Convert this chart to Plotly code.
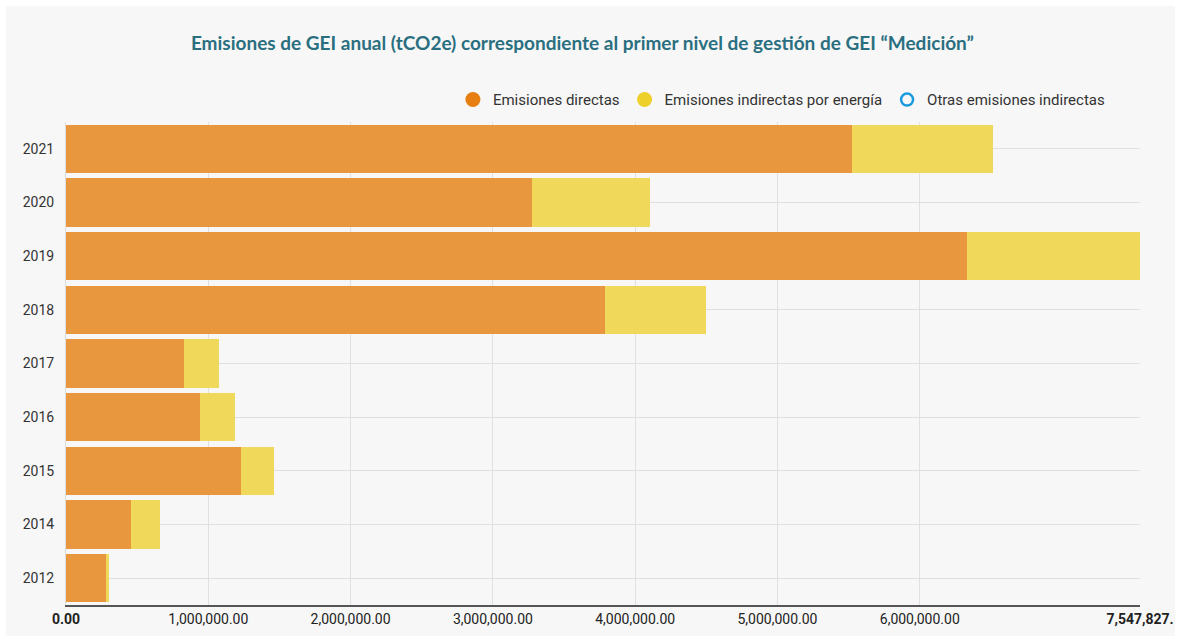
import plotly.graph_objects as go

years = ["2012", "2014", "2015", "2016", "2017", "2018", "2019", "2020", "2021"]
directas = [288000, 457000, 1230000, 942000, 829000, 3788000, 6332000, 3275000, 5523000]
indirectas_energia = [14000, 204000, 232000, 246000, 246000, 710000, 1215827, 829000, 991000]
otras = [0, 0, 0, 0, 0, 0, 0, 0, 0]

x_max = 7547827
tick_vals = [0, 1000000, 2000000, 3000000, 4000000, 5000000, 6000000, 7547827]
tick_text = ["<b>0.00</b>", "1,000,000.00", "2,000,000.00", "3,000,000.00", "4,000,000.00",
             "5,000,000.00", "6,000,000.00", "<b>7,547,827.</b>"]

orange = "rgb(233,151,62)"
yellow = "rgb(240,216,90)"

fig = go.Figure()
fig.add_trace(go.Bar(y=years, x=directas, orientation="h", name="Emisiones directas",
                     marker=dict(color=orange, line=dict(width=0)), showlegend=False))
fig.add_trace(go.Bar(y=years, x=indirectas_energia, orientation="h", name="Emisiones indirectas por energía",
                     marker=dict(color=yellow, line=dict(width=0)), showlegend=False))
fig.add_trace(go.Bar(y=years, x=otras, orientation="h", name="Otras emisiones indirectas",
                     marker=dict(color="#1a9be0", line=dict(width=0)), showlegend=False))

# legend entries (circle markers)
fig.add_trace(go.Scatter(x=[None], y=[None], mode="markers", name="Emisiones directas",
                         marker=dict(symbol="circle", size=15, color="#e67e10")))
fig.add_trace(go.Scatter(x=[None], y=[None], mode="markers", name="Emisiones indirectas por energía",
                         marker=dict(symbol="circle", size=15, color="#edd02a")))
fig.add_trace(go.Scatter(x=[None], y=[None], mode="markers", name="Otras emisiones indirectas",
                         marker=dict(symbol="circle-open", size=12, color="#1a9be0", line=dict(width=2.5))))

fig.update_layout(
    barmode="stack",
    bargap=0.1,
    width=1179, height=639,
    margin=dict(l=66, r=39, t=122, b=34, autoexpand=False),
    paper_bgcolor="white",
    plot_bgcolor="#f7f7f7",
    font=dict(family="Roboto, Arial, sans-serif", size=14, color="#333333"),
    title=dict(text="<b>Emisiones de GEI anual (tCO2e) correspondiente al primer nivel de gestión de GEI “Medición”</b>",
               x=0.494, xanchor="center", y=0.932, yanchor="middle",
               font=dict(family="Lato, Open Sans, sans-serif", size=19, color="#2a6f80")),
    legend=dict(orientation="h", x=0.972, xanchor="right", y=1.046, yanchor="middle",
                traceorder="normal",
                bgcolor="rgba(0,0,0,0)", font=dict(size=15, color="#333333"),
                itemwidth=30, tracegroupgap=0),
    shapes=[dict(type="rect", xref="paper", yref="paper", x0=-0.0559, x1=1.0326, y0=-0.064, y1=1.240,
                 fillcolor="#f7f7f7", line=dict(width=0), layer="below")],
)
fig.update_xaxes(range=[0, x_max], tickvals=tick_vals, ticktext=tick_text, automargin=False,
                 showgrid=True, gridcolor="#e0e0e0", gridwidth=1,
                 showline=True, linecolor="#555555", linewidth=2,
                 zeroline=False, ticks="", tickfont=dict(size=14, color="#222222"))
fig.update_yaxes(categoryorder="array", categoryarray=years, automargin=False,
                 showgrid=True, gridcolor="#e0e0e0", gridwidth=1,
                 showline=True, linecolor="#dddddd", linewidth=1,
                 ticks="", ticklabelstandoff=8, tickfont=dict(size=14, color="#333333"))

fig.write_html("out.html")
